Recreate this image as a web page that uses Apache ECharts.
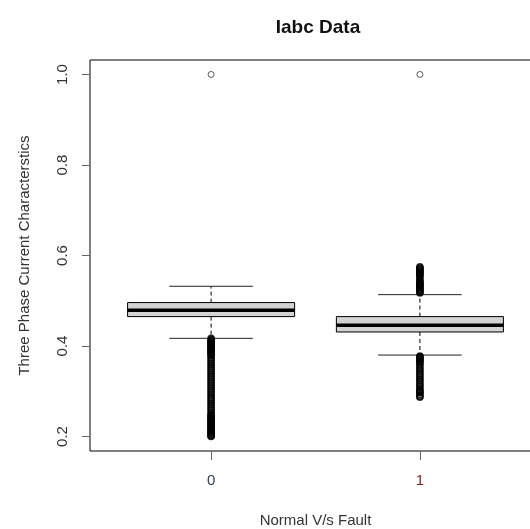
<!DOCTYPE html>
<html>
<head>
<meta charset="utf-8">
<script src="https://cdn.jsdelivr.net/npm/echarts@6/dist/echarts.min.js"></script>
<style>
  html, body { margin: 0; padding: 0; background: #fff; }
  #chartBox { width: 530px; height: 529px; }
</style>
</head>
<body>
<div id="chartBox"></div>
<script>
  // group labels on the x axis (R boxplot positions 0 and 1)
  const categories = ['0', '1']
  const groupPos = [0, 1]
  // five-number summaries
  const whiskerLow = [0.417, 0.380]
  const q1 = [0.465, 0.431]
  const median = [0.479, 0.446]
  const q3 = [0.496, 0.465]
  const whiskerHigh = [0.532, 0.5135]
  // isolated outliers at the top
  const farOutliers = [1.0, 1.0]
  // outliers next to the whiskers (they overlap into solid columns)
  const outliersNormal = [
    0.417, 0.415, 0.413, 0.411, 0.409, 0.407, 0.405, 0.403, 0.401, 0.399,
    0.397, 0.395, 0.393, 0.391, 0.389, 0.387, 0.385, 0.383, 0.381, 0.378,
    0.374, 0.370, 0.366, 0.362, 0.358, 0.354, 0.350, 0.346, 0.342, 0.338,
    0.334, 0.330, 0.326, 0.322, 0.318, 0.314, 0.310, 0.306, 0.302, 0.298,
    0.294, 0.290, 0.286, 0.282, 0.278, 0.274, 0.270, 0.266, 0.262, 0.258,
    0.254, 0.250, 0.247, 0.245, 0.243, 0.241, 0.239, 0.237, 0.235, 0.233,
    0.231, 0.229, 0.227, 0.225, 0.223, 0.221, 0.219, 0.217, 0.215, 0.213,
    0.211, 0.209, 0.207, 0.205, 0.203, 0.201, 0.200
  ]
  const outliersFault = [
    0.575, 0.573, 0.571, 0.569, 0.567, 0.565, 0.563, 0.561, 0.559, 0.557,
    0.554, 0.550, 0.546, 0.543, 0.541, 0.539, 0.537, 0.535, 0.533, 0.531,
    0.529, 0.527, 0.525, 0.523, 0.521, 0.519, 0.517,
    0.378, 0.376, 0.374, 0.372, 0.370, 0.368, 0.366, 0.363, 0.359, 0.355,
    0.351, 0.347, 0.343, 0.339, 0.335, 0.331, 0.327, 0.323, 0.319, 0.315,
    0.311, 0.307, 0.303, 0.300, 0.298, 0.296, 0.292, 0.289, 0.287
  ]
  const yTicks = [0.2, 0.4, 0.6, 0.8, 1.0]

  const boxData = groupPos.map((x, i) => [x, whiskerLow[i], q1[i], median[i], q3[i], whiskerHigh[i]])
  const farData = farOutliers.map((v, i) => [groupPos[i], v])
  const columnData = outliersNormal.map(v => [0, v]).concat(outliersFault.map(v => [1, v]))

  const font = '"Liberation Sans", Arial, sans-serif'

  const myChart = echarts.init(document.getElementById('chartBox'))
  const option = {
    backgroundColor: '#fff',
    animation: false,
    title: {
      text: 'Iabc Data',
      left: 313,
      top: 13,
      textAlign: 'center',
      textStyle: {
        color: '#111',
        fontSize: 19,
        fontWeight: 'bold',
        fontFamily: font
      }
    },
    grid: {
      left: 90,
      top: 60,
      width: 451,
      height: 391,
      outerBoundsMode: 'none',
      containLabel: false,
      show: true,
      borderColor: '#000',
      borderWidth: 1,
      backgroundColor: 'transparent'
    },
    xAxis: {
      type: 'value',
      min: -0.58,
      max: 1.58,
      name: 'Normal V/s Fault',
      nameLocation: 'middle',
      nameGap: 62,
      nameTextStyle: { color: '#333', fontSize: 15, fontFamily: font },
      axisLine: { show: false, onZero: false },
      splitLine: { show: false },
      axisTick: {
        show: true,
        customValues: groupPos,
        length: 9,
        lineStyle: { color: '#666' }
      },
      axisLabel: {
        customValues: groupPos,
        margin: 22,
        fontSize: 15,
        fontFamily: font,
        formatter: v => categories[Math.round(v)],
        color: v => (Math.round(v) === 1 ? '#8b1a1a' : '#2b3f5c')
      }
    },
    yAxis: {
      type: 'value',
      min: 0.168,
      max: 1.032,
      name: 'Three Phase Current Characterstics',
      nameLocation: 'middle',
      nameGap: 58,
      nameRotate: 90,
      nameTextStyle: { color: '#333', fontSize: 15, fontFamily: font },
      axisLine: { show: false, onZero: false },
      splitLine: { show: false },
      axisTick: {
        show: true,
        customValues: yTicks,
        length: 8,
        lineStyle: { color: '#666' }
      },
      axisLabel: {
        customValues: yTicks,
        rotate: 90,
        margin: 20,
        fontSize: 15,
        fontFamily: font,
        color: '#333',
        formatter: v => v.toFixed(1)
      }
    },
    series: [{
      type: 'custom',
      name: 'box',
      data: boxData,
      encode: { x: 0, y: [1, 2, 3, 4, 5] },
      renderItem(params, api) {
        const x = api.value(0)
        const pLow = api.coord([x, api.value(1)])
        const pQ1 = api.coord([x, api.value(2)])
        const pMed = api.coord([x, api.value(3)])
        const pQ3 = api.coord([x, api.value(4)])
        const pHigh = api.coord([x, api.value(5)])
        const half = api.size([0.8, 0])[0] / 2
        const cap = half / 2
        const cx = pMed[0]
        return {
          type: 'group',
          children: [
            { type: 'line', shape: { x1: cx, y1: pQ3[1], x2: cx, y2: pHigh[1] },
              style: { stroke: '#000', lineWidth: 1, lineDash: [4, 3] } },
            { type: 'line', shape: { x1: cx, y1: pQ1[1], x2: cx, y2: pLow[1] },
              style: { stroke: '#000', lineWidth: 1, lineDash: [4, 3] } },
            { type: 'line', shape: { x1: cx - cap, y1: pHigh[1], x2: cx + cap, y2: pHigh[1] },
              style: { stroke: '#222', lineWidth: 1 } },
            { type: 'line', shape: { x1: cx - cap, y1: pLow[1], x2: cx + cap, y2: pLow[1] },
              style: { stroke: '#222', lineWidth: 1 } },
            { type: 'rect', shape: { x: cx - half, y: pQ3[1], width: half * 2, height: pQ1[1] - pQ3[1] },
              style: { fill: '#d3d3d3', stroke: '#000', lineWidth: 1 } },
            { type: 'line', shape: { x1: cx - half, y1: pMed[1], x2: cx + half, y2: pMed[1] },
              style: { stroke: '#000', lineWidth: 3.5 } }
          ]
        }
      }
    }, {
      type: 'scatter',
      name: 'outliers',
      data: columnData,
      symbol: 'circle',
      symbolSize: 6,
      itemStyle: {
        color: 'transparent',
        borderColor: '#000',
        borderWidth: 1.6
      },
      emphasis: { disabled: true }
    }, {
      type: 'scatter',
      name: 'far outliers',
      data: farData,
      symbol: 'circle',
      symbolSize: 6,
      itemStyle: {
        color: 'transparent',
        borderColor: '#333',
        borderWidth: 1
      },
      emphasis: { disabled: true }
    }]
  }
  myChart.setOption(option)
</script>
</body>
</html>
